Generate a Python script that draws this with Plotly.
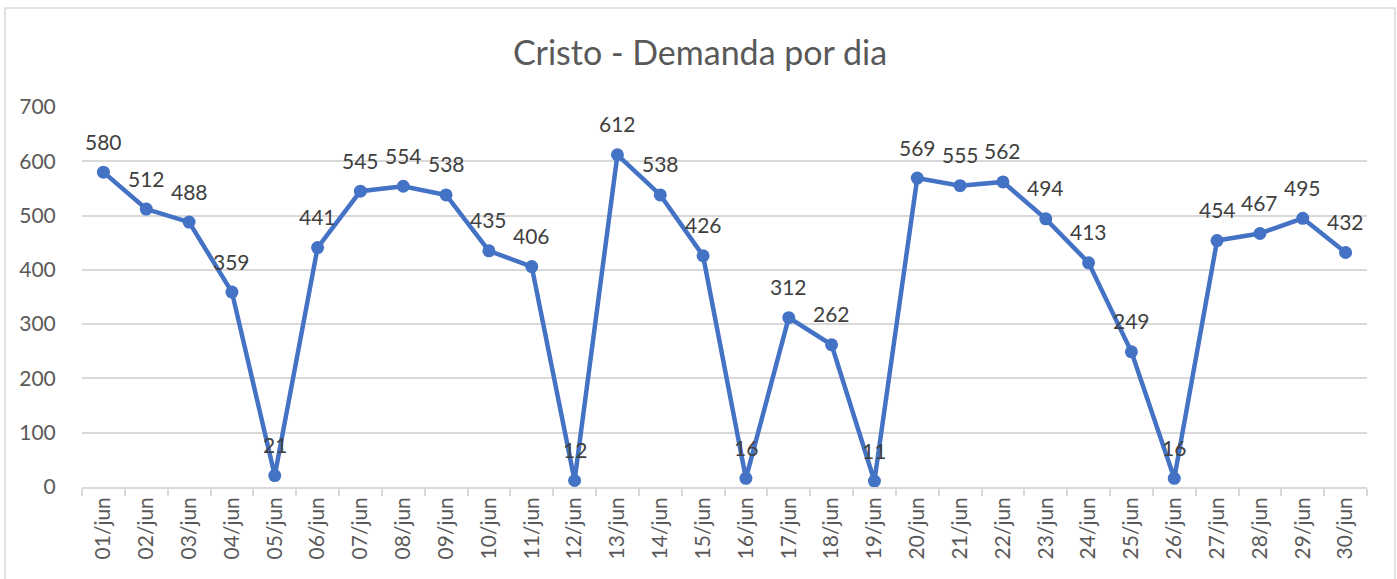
import plotly.graph_objects as go

days = [f"{d:02d}/jun" for d in range(1, 31)]
demand = [580, 512, 488, 359, 21, 441, 545, 554, 538, 435, 406, 12, 612, 538, 426,
          16, 312, 262, 11, 569, 555, 562, 494, 413, 249, 16, 454, 467, 495, 432]

W, H = 1397, 579
L, R, T, B = 82, 1367, 107, 487
pw, ph = R - L, B - T

FONT = "Lato, 'Open Sans', sans-serif"
BLUE = "#4472C4"
GREY_TXT = "#595959"

fig = go.Figure()
fig.add_trace(go.Scatter(
    x=days, y=demand, mode="lines+markers",
    line=dict(color=BLUE, width=4.5),
    marker=dict(color=BLUE, size=13),
    hoverinfo="x+y", showlegend=False,
))

for d, v in zip(days, demand):
    fig.add_annotation(x=d, y=v, text=str(v), showarrow=False, yshift=31,
                       font=dict(family=FONT, size=21, color="#404040"))

# chart border
fig.add_shape(type="rect", xref="paper", yref="paper",
              x0=(5 - L) / pw, x1=(1395 - L) / pw,
              y0=(B - 600) / ph, y1=(B - 8) / ph,
              line=dict(color="#D9D9D9", width=1.5), fillcolor="rgba(0,0,0,0)", layer="below")

fig.update_layout(
    width=W, height=H,
    margin=dict(l=L, r=W - R, t=T, b=H - B, autoexpand=False),
    paper_bgcolor="white", plot_bgcolor="white",
    title=dict(text="Cristo - Demanda por dia", x=(700 - L) / pw, xref="paper", xanchor="center",
               y=1 - 53 / H, yanchor="middle",
               font=dict(family=FONT, size=34, color=GREY_TXT)),
    font=dict(family=FONT, color=GREY_TXT),
    xaxis=dict(type="category", tickangle=-90, showgrid=False, automargin=False,
               showline=True, linecolor="#D9D9D9", linewidth=1.5,
               ticks="outside", tickson="boundaries", ticklen=7, tickcolor="#D9D9D9",
               tickwidth=1.5,
               tickfont=dict(family=FONT, size=21, color=GREY_TXT),
               range=[-0.5, 29.5]),
    yaxis=dict(range=[0, 700], dtick=100, showgrid=True, gridcolor="#D9D9D9",
               gridwidth=1.5, zeroline=False, showline=False, automargin=False,
               ticks="outside", ticklen=21, tickcolor="rgba(0,0,0,0)",
               tickfont=dict(family=FONT, size=21, color=GREY_TXT)),
)

fig.write_html("out.html", config={"displayModeBar": False},
               post_script="document.body.style.margin='0';document.body.style.overflow='hidden';")
